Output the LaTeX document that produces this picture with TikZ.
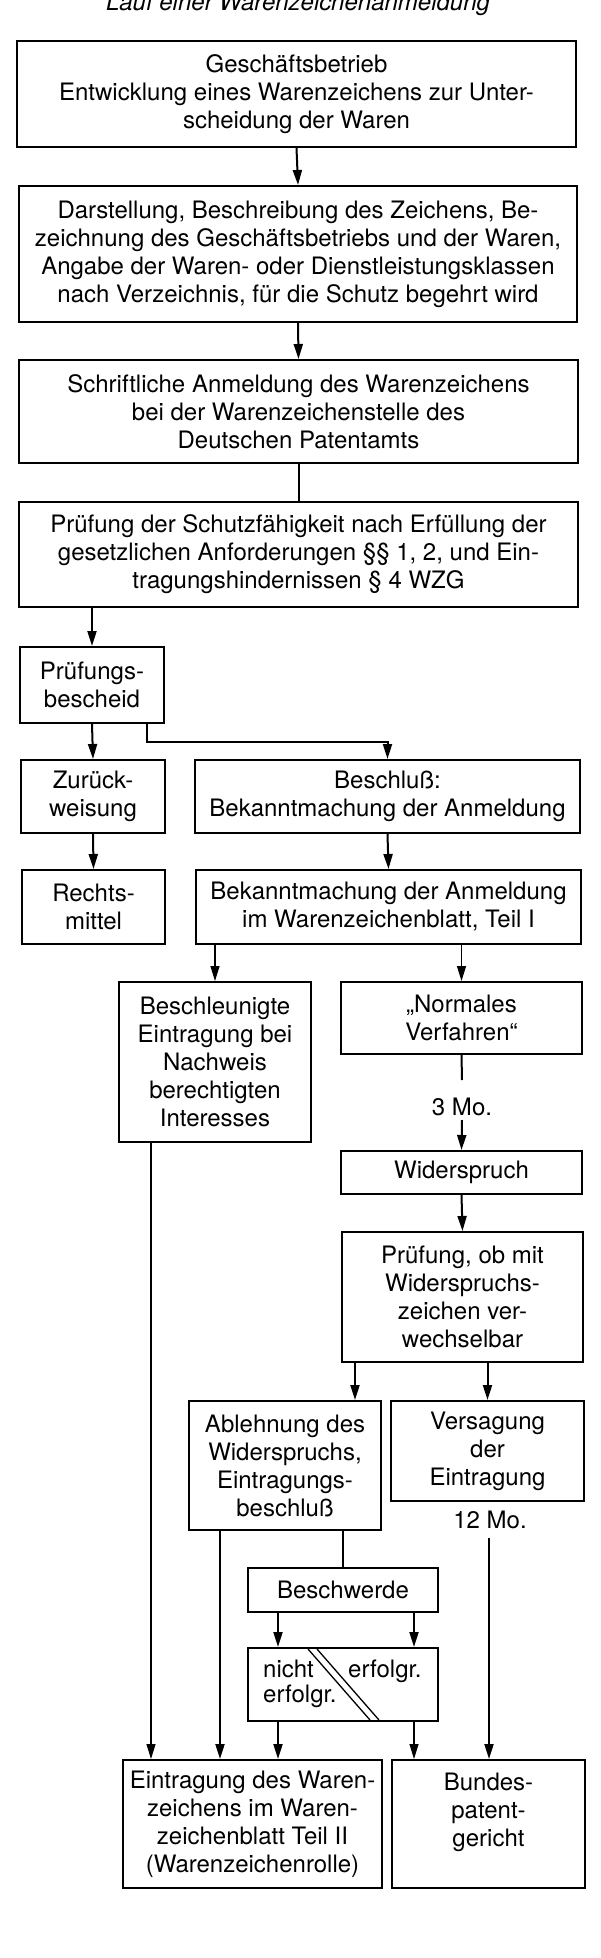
\documentclass[tikz,border=0pt]{standalone}
\usepackage{fontspec}
\setmainfont{TeX Gyre Heros}
\usetikzlibrary{arrows.meta}
\tikzset{
  box/.style={draw, line width=2pt, inner sep=0pt, align=center, font=\fontsize{24}{28}\selectfont},
  lbl/.style={inner sep=0pt, font=\fontsize{24}{28}\selectfont},
  arr/.style={line width=2pt, -{Triangle[length=15pt,width=9pt]}},
  tarr/.style={line width=1.2pt, -{Triangle[length=15pt,width=9pt]}},
  ln/.style={line width=2pt},
  tln/.style={line width=1.2pt}
}
\newcommand\mybox[6]{\node[box, minimum width={(#4-#2)*1pt}, minimum height={(#5-#3)*1pt}] (#1) at ({(#2+#4)/2},{(#3+#5)/2}) {#6};}
\begin{document}
\begin{tikzpicture}[x=1pt,y=-1pt]
\useasboundingbox (0,0) rectangle (600,1958);
\fill[white] (0,0) rectangle (600,1958);
\node[lbl, font=\fontsize{24}{28}\selectfont\itshape, anchor=base] (title) at (298,11) {Lauf einer Warenzeichenanmeldung};

\mybox{b1}{17}{41}{576}{147}{Geschäftsbetrieb\\Entwicklung eines Warenzeichens zur Unter-\\scheidung der Waren}
\mybox{b2}{19}{186}{577}{322}{Darstellung, Beschreibung des Zeichens, Be-\\zeichnung des Geschäftsbetriebs und der Waren,\\Angabe der Waren- oder Dienstleistungsklassen\\nach Verzeichnis, für die Schutz begehrt wird}
\mybox{b3}{19}{360}{578}{463}{Schriftliche Anmeldung des Warenzeichens\\bei der Warenzeichenstelle des\\Deutschen Patentamts}
\mybox{b4}{19}{502}{578}{607}{Prüfung der Schutzfähigkeit nach Erfüllung der\\gesetzlichen Anforderungen §§ 1, 2, und Ein-\\tragungshindernissen § 4 WZG}
\mybox{pb}{20}{647}{164}{723}{Prüfungs-\\bescheid}
\mybox{zw}{21}{760}{165}{833}{Zurück-\\weisung}
\mybox{bs}{195}{760}{580}{833}{Beschluß:\\Bekanntmachung der Anmeldung}
\mybox{rm}{22}{870}{165}{944}{Rechts-\\mittel}
\mybox{bk}{196}{870}{581}{944}{Bekanntmachung der Anmeldung\\im Warenzeichenblatt, Teil I}
\mybox{bsch}{119}{982}{311}{1142}{Beschleunigte\\Eintragung bei\\Nachweis\\berechtigten\\Interesses}
\mybox{nv}{341}{982}{582}{1054}{„Normales\\Verfahren“}
\mybox{ws}{341}{1151}{582}{1194}{Widerspruch}
\mybox{po}{342}{1232}{583}{1362}{Prüfung, ob mit\\Widerspruchs-\\zeichen ver-\\wechselbar}
\mybox{ab}{189}{1401}{381}{1530}{Ablehnung des\\Widerspruchs,\\Eintragungs-\\beschluß}
\mybox{vs}{391}{1401}{584}{1501}{Versagung\\der\\Eintragung}
\mybox{bw}{248}{1568}{438}{1612}{Beschwerde}
\mybox{ne}{248}{1648}{438}{1721}{}
\mybox{et}{123}{1760}{382}{1888}{Eintragung des Waren-\\zeichens im Waren-\\zeichenblatt Teil II\\(Warenzeichenrolle)}
\mybox{bp}{392}{1760}{585}{1888}{Bundes-\\patent-\\gericht\\\mbox{}}

% texts inside the split box
\node[lbl, anchor=base west] (ne1) at (263,1677) {nicht};
\node[lbl, anchor=base west] (ne2) at (348,1677) {erfolgr.};
\node[lbl, anchor=base west] (ne3) at (263,1702) {erfolgr.};
\draw[line width=1.3pt] (308,1649) -- (370,1720);
\draw[line width=1.3pt] (317,1649) -- (379,1720);

% labels
\node[lbl] (mo3) at (462,1107) {3 Mo.};
\node[lbl] (mo12) at (490,1520) {12 Mo.};

% helper coordinates
\coordinate (k1) at (147,742);
\coordinate (x151) at (151,0);
\coordinate (x220) at (220,0);
\coordinate (x355) at (355,0);
\coordinate (x278) at (278,0);
\coordinate (x414) at (414,0);
\coordinate (m3a) at (462,1080);
\coordinate (m3b) at (462,1120);
\coordinate (m12) at (489,1538);

% connectors
\draw[arr] (b1.south) -- (b2.north);
\draw[arr] (b2.south) -- (b3.north);
\draw[ln] (b3.south) -- (b4.north);
\draw[arr] (b4.south -| pb.north) -- (pb.north);
\draw[arr] (pb.south) -- (zw.north);
\draw[arr] (k1 |- pb.south) -- (k1) -| (bs.north);
\draw[arr] (zw.south) -- (rm.north);
\draw[arr] (bs.south) -- (bk.north);
\draw[tarr] (bk.south -| bsch.north) -- (bsch.north);
\draw[tarr] (bk.south -| nv.north) -- (nv.north);
\draw[ln] (nv.south) -- (m3a);
\draw[arr] (m3b) -- (ws.north);
\draw[arr] (ws.south) -- (po.north);
\draw[arr] (po.south -| x355) -- (ab.north -| x355);
\draw[arr] (po.south -| vs.north) -- (vs.north);
\draw[arr] (m12) -- (m12 |- bp.north);
\draw[tarr] (bsch.south -| x151) -- (et.north -| x151);
\draw[arr] (ab.south -| x220) -- (et.north -| x220);
\draw[ln] (ab.south -| bw.north) -- (bw.north);
\draw[arr] (bw.south -| x278) -- (ne.north -| x278);
\draw[arr] (bw.south -| x414) -- (ne.north -| x414);
\draw[arr] (ne.south -| x278) -- (et.north -| x278);
\draw[tarr] (ne.south -| x414) -- (bp.north -| x414);
\end{tikzpicture}
\end{document}
